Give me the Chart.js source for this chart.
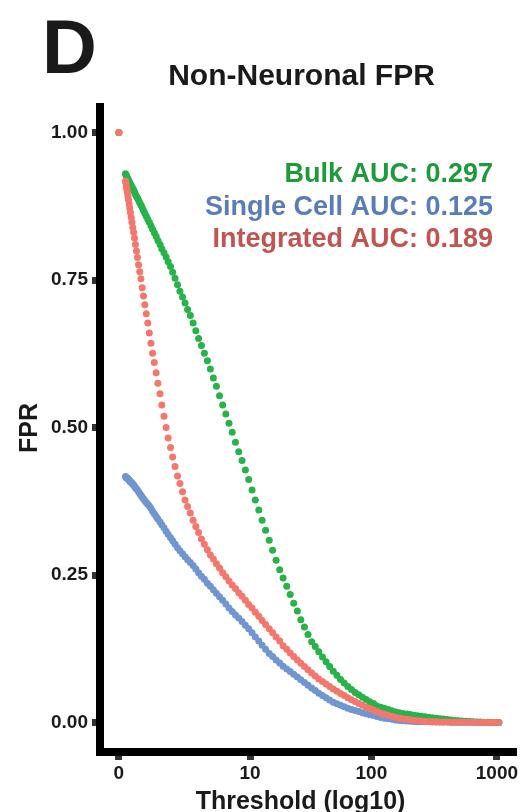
<!DOCTYPE html>
<html>
<head>
<meta charset="utf-8">
<script src="https://cdn.jsdelivr.net/npm/chart.js@4.4.1/dist/chart.umd.min.js"></script>
<style>html,body{margin:0;padding:0;background:#fff;}canvas{display:block;}</style>
</head>
<body>
<canvas id="c" width="526" height="812"></canvas>
<script>
const thresholds = [
  0, 0.128, 0.137, 0.147, 0.157, 0.168, 0.180, 0.192, 0.206, 0.220,
  0.235, 0.252, 0.270, 0.288, 0.309, 0.330, 0.353, 0.378, 0.404, 0.433,
  0.463, 0.496, 0.530, 0.567, 0.607, 0.649, 0.695, 0.744, 0.796, 0.851,
  0.911, 0.975, 1.04, 1.12, 1.19, 1.28, 1.37, 1.46, 1.57, 1.67,
  1.79, 1.92, 2.05, 2.20, 2.35, 2.51, 2.69, 2.88, 3.08, 3.29,
  3.52, 3.77, 4.04, 4.32, 4.62, 4.94, 5.29, 5.66, 6.06, 6.48,
  6.93, 7.42, 7.94, 8.49, 9.09, 9.72, 10.4, 11.1, 11.9, 12.7,
  13.6, 14.6, 15.6, 16.7, 17.9, 19.1, 20.5, 21.9, 23.4, 25.1,
  26.8, 28.7, 30.7, 32.9, 35.2, 37.6, 40.3, 43.1, 46.1, 49.3,
  52.8, 56.5, 60.4, 64.7, 69.2, 74.0, 79.2, 84.8, 90.7, 97.0,
  104, 111, 119, 127, 136, 146, 156, 167, 178, 191,
  204, 219, 234, 250, 268, 286, 307, 328, 351, 375,
  402, 430, 460, 492, 527, 564, 603, 645, 690, 739,
  790, 846, 905, 968, 1036
];
const bulkFPR = [
  1, 0.930, 0.928, 0.927, 0.925, 0.923, 0.921, 0.919, 0.917, 0.915,
  0.912, 0.910, 0.907, 0.905, 0.902, 0.899, 0.895, 0.892, 0.889, 0.885,
  0.881, 0.877, 0.873, 0.868, 0.863, 0.858, 0.853, 0.848, 0.842, 0.836,
  0.830, 0.824, 0.817, 0.810, 0.803, 0.796, 0.789, 0.781, 0.773, 0.763,
  0.753, 0.742, 0.731, 0.721, 0.711, 0.700, 0.690, 0.677, 0.664, 0.651,
  0.639, 0.626, 0.613, 0.599, 0.584, 0.570, 0.554, 0.538, 0.523, 0.507,
  0.492, 0.475, 0.459, 0.444, 0.428, 0.412, 0.394, 0.377, 0.360, 0.343,
  0.326, 0.309, 0.292, 0.275, 0.259, 0.245, 0.231, 0.217, 0.202, 0.189,
  0.174, 0.162, 0.149, 0.137, 0.129, 0.120, 0.111, 0.103, 0.095, 0.087,
  0.080, 0.073, 0.067, 0.061, 0.056, 0.051, 0.047, 0.043, 0.039, 0.035,
  0.032, 0.028, 0.026, 0.024, 0.022, 0.020, 0.018, 0.0166, 0.0154, 0.0144,
  0.0134, 0.0122, 0.0114, 0.0105, 0.0097, 0.0088, 0.0080, 0.0073, 0.0064, 0.0058,
  0.0049, 0.0042, 0.0034, 0.0029, 0.0025, 0.0020, 0.0017, 0.0014, 0.0008, 0.0007,
  0.0005, 0.0003, 0.0002, 0.0001, 0
];
const singleCellFPR = [
  1, 0.417, 0.416, 0.415, 0.414, 0.414, 0.413, 0.412, 0.411, 0.409,
  0.408, 0.407, 0.406, 0.404, 0.403, 0.400, 0.398, 0.396, 0.394, 0.391,
  0.388, 0.385, 0.382, 0.379, 0.376, 0.373, 0.370, 0.367, 0.363, 0.358,
  0.354, 0.349, 0.345, 0.340, 0.335, 0.330, 0.324, 0.319, 0.313, 0.308,
  0.302, 0.296, 0.291, 0.286, 0.281, 0.276, 0.271, 0.266, 0.260, 0.254,
  0.248, 0.243, 0.236, 0.231, 0.225, 0.219, 0.213, 0.207, 0.201, 0.194,
  0.188, 0.182, 0.177, 0.171, 0.165, 0.159, 0.152, 0.145, 0.138, 0.131,
  0.124, 0.117, 0.112, 0.106, 0.101, 0.0954, 0.0908, 0.0864, 0.0817, 0.0771,
  0.0724, 0.0678, 0.0631, 0.0585, 0.0541, 0.0495, 0.0458, 0.0419, 0.0381, 0.0344,
  0.0319, 0.0293, 0.0269, 0.0242, 0.0220, 0.0203, 0.0185, 0.0166, 0.0147, 0.0132,
  0.0117, 0.0102, 0.0085, 0.0073, 0.0063, 0.0054, 0.0044, 0.0036, 0.0031, 0.0025,
  0.0022, 0.0017, 0.0014, 0.0013, 0.0012, 0.0011, 0.0010, 0.0009, 0.0008, 0.0008,
  0.0007, 0.0006, 0.0006, 0.0005, 0.0005, 0.0004, 0.0004, 0.0003, 0.0003, 0.0002,
  0.0002, 0.0001, 0.0001, 0.0001, 0
];
const integratedFPR = [
  1, 0.918, 0.914, 0.908, 0.903, 0.898, 0.892, 0.886, 0.879, 0.872,
  0.864, 0.856, 0.848, 0.839, 0.831, 0.821, 0.810, 0.799, 0.788, 0.776,
  0.764, 0.752, 0.737, 0.723, 0.708, 0.693, 0.677, 0.660, 0.643, 0.626,
  0.610, 0.593, 0.575, 0.557, 0.538, 0.519, 0.500, 0.482, 0.466, 0.450,
  0.434, 0.418, 0.405, 0.391, 0.377, 0.366, 0.355, 0.343, 0.332, 0.322,
  0.311, 0.302, 0.293, 0.284, 0.277, 0.269, 0.262, 0.254, 0.247, 0.240,
  0.233, 0.227, 0.220, 0.214, 0.207, 0.200, 0.194, 0.187, 0.180, 0.173,
  0.166, 0.159, 0.152, 0.145, 0.138, 0.130, 0.124, 0.118, 0.112, 0.106,
  0.1005, 0.0951, 0.0895, 0.0841, 0.0788, 0.0739, 0.0697, 0.0654, 0.0612, 0.0568,
  0.0529, 0.0492, 0.0456, 0.0419, 0.0385, 0.0354, 0.0322, 0.0292, 0.0261, 0.0236,
  0.0210, 0.0185, 0.0161, 0.0139, 0.0122, 0.0107, 0.0090, 0.0075, 0.0064, 0.0056,
  0.0047, 0.0039, 0.0031, 0.0027, 0.0022, 0.0019, 0.0015, 0.0012, 0.0010, 0.0008,
  0.0007, 0.0006, 0.0005, 0.0005, 0.0004, 0.0004, 0.0003, 0.0003, 0.0002, 0.0002,
  0.0002, 0.0001, 0.0001, 0.0001, 0
];
const xTickLabels = [0, 10, 100, 1000];
const yTickValues = [0, 0.25, 0.5, 0.75, 1];
const seriesNames = ['Integrated', 'Bulk', 'Single Cell'];
const aucLines = [
  {text: 'Bulk AUC: 0.297', color: '#1f9a3b'},
  {text: 'Single Cell AUC: 0.125', color: '#5a7db8'},
  {text: 'Integrated AUC: 0.189', color: '#c05450'}
];
const panelLetter = 'D';
const chartTitle = 'Non-Neuronal FPR';
const xTitle = 'Threshold (log10)';
const yTitle = 'FPR';

const FONT = '"Liberation Sans", Arial, Helvetica, sans-serif';
const toLog = t => Math.log10(t + 1);
function points(vals) {
  const n = Math.min(vals.length, thresholds.length);
  const out = [];
  for (let i = 0; i < n; i++) out.push({x: toLog(thresholds[i]), y: vals[i]});
  return out;
}

const decor = {
  id: 'decor',
  afterDraw(chart) {
    const ctx = chart.ctx;
    const a = chart.chartArea;
    ctx.save();
    ctx.fillStyle = '#000';
    ctx.fillRect(a.left - 4, a.top, 8, a.bottom + 4 - a.top);
    ctx.fillRect(a.left - 4, a.bottom - 4, a.right - a.left + 4, 8);

    ctx.fillStyle = '#1a1a1a';
    ctx.textBaseline = 'alphabetic';
    ctx.textAlign = 'left';
    ctx.font = 'bold 76px ' + FONT;
    ctx.fillText(panelLetter, 42, 73);

    ctx.textAlign = 'center';
    ctx.font = 'bold 30px ' + FONT;
    ctx.fillText(chartTitle, 301.5, 85);

    ctx.font = 'bold 25px ' + FONT;
    ctx.fillText(xTitle, 300.5, 809);

    ctx.save();
    ctx.translate(37, 428);
    ctx.rotate(-Math.PI / 2);
    ctx.fillText(yTitle, 0, 0);
    ctx.restore();

    ctx.textAlign = 'right';
    ctx.font = 'bold 27px ' + FONT;
    const baselines = [182, 215, 247];
    aucLines.forEach((l, i) => {
      ctx.fillStyle = l.color;
      ctx.fillText(l.text, 493, baselines[i]);
    });
    ctx.restore();
  }
};

const ptStyle = (color) => ({
  pointRadius: 3.5,
  pointBorderWidth: 0,
  pointBackgroundColor: color,
  pointBorderColor: color,
  backgroundColor: color,
  borderColor: color,
  showLine: false
});

new Chart(document.getElementById('c'), {
  type: 'scatter',
  data: {
    datasets: [
      Object.assign({label: seriesNames[0], data: points(integratedFPR)}, ptStyle('#f4776e')),
      Object.assign({label: seriesNames[1], data: points(bulkFPR)}, ptStyle('#27b24a')),
      Object.assign({label: seriesNames[2], data: points(singleCellFPR)}, ptStyle('#7096d1'))
    ]
  },
  options: {
    responsive: false,
    animation: false,
    devicePixelRatio: 1,
    layout: {padding: {top: 103, right: 9, left: 0, bottom: 0}},
    plugins: {legend: {display: false}, tooltip: {enabled: false}, title: {display: false}},
    scales: {
      x: {
        type: 'linear',
        min: -0.15,
        max: 3.16,
        afterBuildTicks: (s) => { s.ticks = xTickLabels.map(v => ({value: toLog(v)})); },
        afterFit: (s) => { s.height = 60; },
        ticks: {
          callback: (v, i) => String(xTickLabels[i]),
          color: '#1a1a1a',
          font: {family: FONT, size: 19, weight: 'bold'},
          padding: 2,
          maxRotation: 0,
          autoSkip: false
        },
        grid: {drawOnChartArea: false, drawTicks: true, tickLength: 8, tickWidth: 7, tickColor: '#333', color: '#333'},
        border: {display: false}
      },
      y: {
        type: 'linear',
        min: -0.05,
        max: 1.05,
        afterBuildTicks: (s) => { s.ticks = yTickValues.map(v => ({value: v})); },
        afterFit: (s) => { s.width = 100; },
        ticks: {
          callback: (v) => Number(v).toFixed(2),
          color: '#1a1a1a',
          font: {family: FONT, size: 19, weight: 'bold'},
          padding: 4,
          autoSkip: false
        },
        grid: {drawOnChartArea: false, drawTicks: true, tickLength: 8, tickWidth: 7, tickColor: '#333', color: '#333'},
        border: {display: false}
      }
    }
  },
  plugins: [decor]
});
</script>
</body>
</html>
